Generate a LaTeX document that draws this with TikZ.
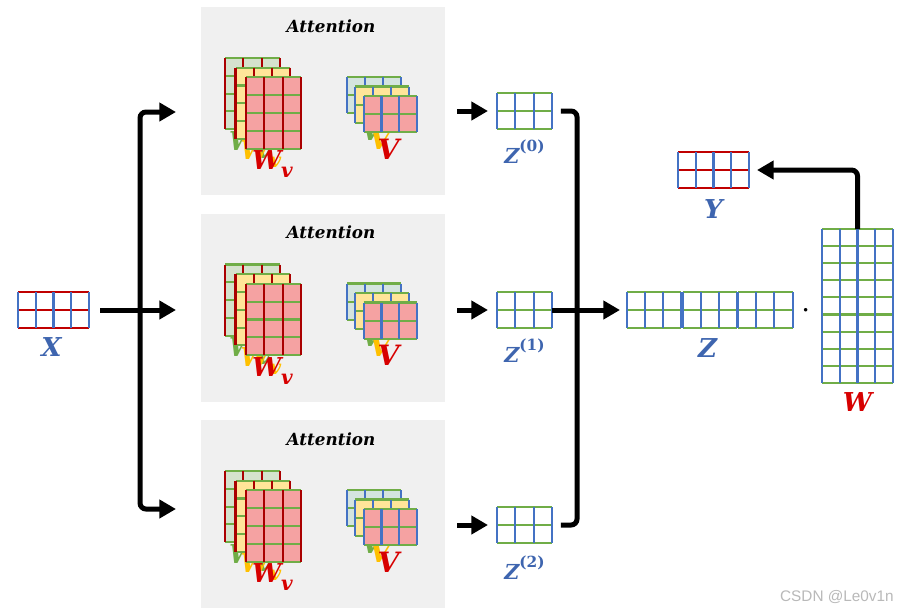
\documentclass[tikz,border=0pt]{standalone}
\usepackage{fontspec}
\newfontfamily\labfont{DejaVu Serif}
\newfontfamily\wmfont{Liberation Sans}
\usetikzlibrary{arrows.meta,fit,calc}
\definecolor{mblue}{RGB}{68,114,196}
\definecolor{mgreen}{RGB}{112,173,71}
\definecolor{mred}{RGB}{192,0,0}
\definecolor{mdred}{RGB}{170,0,0}
\definecolor{fpink}{RGB}{245,162,162}
\definecolor{fyellow}{RGB}{255,229,153}
\definecolor{fgreen}{RGB}{213,226,205}
\definecolor{fteal}{RGB}{212,228,222}
\definecolor{boxgray}{RGB}{240,240,240}
\definecolor{tblue}{RGB}{62,101,175}
\definecolor{tred}{RGB}{215,0,0}
\definecolor{tgreen}{RGB}{112,173,71}
\definecolor{tyellow}{RGB}{255,192,0}
\definecolor{wmgray}{RGB}{185,185,185}
% name, x0, y0, cols, rows, cellw, cellh, fill, scheme
\newcommand\gmat[9]{%
  \node[fit={(#2,#3)(#2+#4*#6,#3+#5*#7)}, inner sep=0pt, outer sep=0pt, fill=#8] (#1) {};
  \foreach \ii in {0,...,#5} \draw[grid, h#9] (#2,#3+\ii*#7) -- (#2+#4*#6,#3+\ii*#7);
  \foreach \jj in {0,...,#4} \draw[grid, v#9] (#2+\jj*#6,#3) -- (#2+\jj*#6,#3+#5*#7);
}
\newcommand\lsub[1]{\raisebox{-6pt}{\fontsize{15pt}{15pt}\selectfont #1}}
\newcommand\lsup[1]{\raisebox{8.5pt}{\fontsize{11.5pt}{12pt}\selectfont\upshape #1}}
\begin{document}
\begin{tikzpicture}[x=0.75pt,y=-0.75pt,
 grid/.style={line width=1.6pt},
 hbr/.style={draw=mred}, vbr/.style={draw=mblue},
 hbg/.style={draw=mgreen}, vbg/.style={draw=mblue},
 hrg/.style={draw=mgreen}, vrg/.style={draw=mdred},
 conn/.style={line width=3.75pt, rounded corners=4.5pt},
 arr/.style={conn, -{Triangle[length=12.5pt,width=13.5pt]}},
 lab/.style={inner sep=0pt, font=\labfont\bfseries\itshape\fontsize{19.5pt}{20pt}\selectfont},
 vlab/.style={inner sep=0pt, font=\labfont\bfseries\itshape\fontsize{21pt}{22pt}\selectfont},
 zlab/.style={inner sep=0pt, text=tblue, font=\labfont\bfseries\itshape\fontsize{15.5pt}{16pt}\selectfont},
 atttext/.style={inner sep=0pt, font=\labfont\bfseries\itshape\fontsize{12.6pt}{13pt}\selectfont},
]
\useasboundingbox[fill=white] (0,0) rectangle (900,615);

% attention boxes
\foreach \k/\dy in {0/0,1/206.5,2/413}{
  \node[fit={(201,7+\dy)(445,195+\dy)}, inner sep=0pt, outer sep=0pt, fill=boxgray] (att\k) {};
  \node[atttext, anchor=base] (t\k) at (331,32+\dy) {Attention};
  % W stacks
  \gmat{wb\k}{225}{58+\dy}{3}{4}{18.3}{17.8}{fgreen}{rg}
  \node[lab, text=tgreen, anchor=base] (lwb\k) at ($(wb\k.south)+(-3,21)$) {W\lsub{v}};
  \gmat{wm\k}{235.5}{67.7+\dy}{3}{4}{18.3}{17.8}{fyellow}{rg}
  \node[lab, text=tyellow, anchor=base] (lwm\k) at ($(wm\k.south)+(-2,21)$) {W\lsub{v}};
  \gmat{wf\k}{246}{77.4+\dy}{3}{4}{18.3}{17.8}{fpink}{rg}
  \node[lab, text=tred, anchor=base] (lwf\k) at ($(wf\k.south)+(-1,21)$) {W\lsub{v}};
  % V stacks
  \gmat{vb\k}{347}{77+\dy}{3}{2}{17.9}{18.2}{fteal}{bg}
  \node[vlab, text=tgreen, anchor=base] (lvb\k) at ($(vb\k.south)+(-2,27)$) {V};
  \gmat{vm\k}{355.3}{86.5+\dy}{3}{2}{17.9}{18.2}{fyellow}{bg}
  \node[vlab, text=tyellow, anchor=base] (lvm\k) at ($(vm\k.south)+(-2,27)$) {V};
  \gmat{vf\k}{363.6}{96+\dy}{3}{2}{17.9}{18.2}{fpink}{bg}
  \node[vlab, text=tred, anchor=base] (lvf\k) at ($(vf\k.south)+(-2,27)$) {V};
}

% input X
\gmat{X}{18}{292}{4}{2}{17.75}{18}{white}{br}
\node[lab, text=tblue, anchor=base] (lX) at ($(X.south)+(-2,28)$) {X};

% heads outputs
\gmat{z0}{497}{93}{3}{2}{18.33}{18}{white}{bg}
\gmat{z1}{497}{292}{3}{2}{18.33}{18}{white}{bg}
\gmat{z2}{497}{507}{3}{2}{18.33}{18}{white}{bg}
\node[zlab, anchor=base] (lz0) at ($(z0.south)+(0,34)$) {Z\lsup{(0)}};
\node[zlab, anchor=base] (lz1) at ($(z1.south)+(0,34)$) {Z\lsup{(1)}};
\node[zlab, anchor=base] (lz2) at ($(z2.south)+(0,36)$) {Z\lsup{(2)}};

% concatenated Z
\gmat{zc1}{627}{292}{3}{2}{18.1}{18}{white}{bg}
\gmat{zc2}{682.5}{292}{3}{2}{18.1}{18}{white}{bg}
\gmat{zc3}{738}{292}{3}{2}{18.2}{18}{white}{bg}
\node[lab, text=tblue, anchor=base] (lZ) at ($(zc2.south)+(-2,29)$) {Z};
\node[font=\fontsize{30pt}{30pt}\selectfont, inner sep=0pt] (dot) at (806,311) {$\cdot$};

% W output projection
\gmat{Wm}{822}{229}{4}{9}{17.75}{17.1}{white}{bg}
\node[lab, text=tred, anchor=base] (lW) at ($(Wm.south)+(0,29)$) {W};

% Y
\gmat{Ym}{678}{152}{4}{2}{17.75}{18}{white}{br}
\node[lab, text=tblue, anchor=base] (lY) at ($(Ym.south)+(0,30)$) {Y};

% connectors
\coordinate (lx) at (140,310);
\coordinate (a0) at (176,112);
\coordinate (a1) at (176,310);
\coordinate (a2) at (176,509);
\draw[arr, shorten <=8.25pt] (X.east) -- (a1);
\draw[arr] (lx) |- (a0);
\draw[arr] (lx) |- (a2);

\coordinate (s0) at (457,111);
\coordinate (s1) at (457,310);
\coordinate (s2) at (457,525);
\foreach \k in {0,1,2}{
  \draw[arr, shorten >=6.75pt] (s\k) -- (z\k.west);
}
\coordinate (b0) at ($(z0.east)+(9,0)$);
\coordinate (b2) at ($(z2.east)+(9,0)$);
\coordinate (bx) at (577,310);
\draw[conn] (b0) -| (bx) |- (b2);
\draw[arr, shorten >=5.25pt] (z1.east) -- (zc1.west);
\draw[arr, shorten >=6pt] (Wm.north) |- (Ym.east);

\node[anchor=east, text=wmgray, inner sep=0pt, font=\wmfont\fontsize{11.5pt}{12pt}\selectfont] (wm) at (894,597) {CSDN @Le0v1n};
\end{tikzpicture}
\end{document}
